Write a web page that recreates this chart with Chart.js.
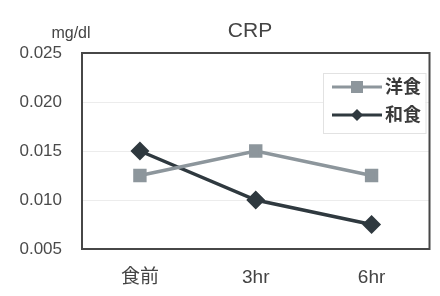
<!DOCTYPE html>
<html>
<head>
<meta charset="utf-8">
<script src="https://cdn.jsdelivr.net/npm/chart.js@4/dist/chart.umd.min.js"></script>
<style>
  html, body { margin: 0; padding: 0; background: #fff; }
  #wrap { width: 440px; height: 296px; }
</style>
</head>
<body>
<div id="wrap"><canvas id="crp" width="440" height="296"></canvas></div>
<script>
const categories = ['食前', '3hr', '6hr'];
const westernValues = [0.0125, 0.015, 0.0125];
const japaneseValues = [0.015, 0.010, 0.0075];
const yTicks = [0.005, 0.010, 0.015, 0.020, 0.025];

const FONT = '"Liberation Sans", "Noto Sans CJK JP", sans-serif';

// title, mg/dl label and boxed legend inside the plot
const extras = {
  id: 'extras',
  afterDraw(chart) {
    const { ctx, chartArea } = chart;
    ctx.save();
    ctx.textBaseline = 'middle';
    ctx.textAlign = 'center';
    ctx.fillStyle = '#444';
    ctx.font = '21px ' + FONT;
    ctx.fillText('CRP', 250, 31);
    ctx.font = '16px ' + FONT;
    ctx.fillText('mg/dl', 71, 34);

    // legend box
    const bx = 323, by = 73, bw = chartArea.right - 323 - 4, bh = 60;
    ctx.fillStyle = '#fff';
    ctx.fillRect(bx, by, bw, bh);
    ctx.strokeStyle = '#e2e2e2';
    ctx.lineWidth = 1;
    ctx.strokeRect(bx + 0.5, by + 0.5, bw, bh);
    chart.data.datasets.forEach((ds, i) => {
      const y = by + 14 + i * 28;
      ctx.strokeStyle = ds.borderColor;
      ctx.lineWidth = 3;
      ctx.beginPath();
      ctx.moveTo(bx + 9, y);
      ctx.lineTo(bx + 59, y);
      ctx.stroke();
      ctx.fillStyle = ds.borderColor;
      const cx = bx + 34;
      if (ds.pointStyle === 'rect') {
        ctx.fillRect(cx - 6, y - 6, 12, 12);
      } else {
        ctx.beginPath();
        ctx.moveTo(cx, y - 6);
        ctx.lineTo(cx + 6, y);
        ctx.lineTo(cx, y + 6);
        ctx.lineTo(cx - 6, y);
        ctx.closePath();
        ctx.fill();
      }
      ctx.fillStyle = '#3a3a3a';
      ctx.font = 'bold 18px ' + FONT;
      ctx.textAlign = 'left';
      ctx.fillText(ds.label, bx + 62, y + 1);
    });
    ctx.restore();
  }
};

const frame = {
  id: 'frame',
  afterDatasetsDraw(chart) {
    const { ctx, chartArea: a } = chart;
    ctx.save();
    ctx.strokeStyle = '#474747';
    ctx.lineWidth = 2;
    ctx.strokeRect(a.left, a.top, a.right - a.left, a.bottom - a.top);
    ctx.restore();
  }
};

new Chart('crp', {
  type: 'line',
  data: {
    labels: categories,
    datasets: [
      {
        label: '洋食',
        data: westernValues,
        borderColor: '#8d969c',
        backgroundColor: '#8d969c',
        borderWidth: 3.5,
        pointStyle: 'rect',
        pointRadius: 7,
        tension: 0,
      },
      {
        label: '和食',
        data: japaneseValues,
        borderColor: '#2f393f',
        backgroundColor: '#2f393f',
        borderWidth: 3.5,
        pointStyle: 'rectRot',
        pointRadius: 7,
        tension: 0,
      },
    ],
  },
  options: {
    responsive: false,
    animation: false,
    layout: { padding: { left: 0, right: 8, top: 53, bottom: 0 } },
    plugins: {
      legend: { display: false },
      tooltip: { enabled: false },
      title: { display: false },
    },
    scales: {
      x: {
        offset: true,
        afterFit(scale) { scale.height = 47; },
        grid: { display: false, drawTicks: false },
        border: { color: '#474747', width: 2 },
        ticks: {
          color: '#444',
          padding: 17,
          font: { family: FONT, size: 19 },
        },
      },
      y: {
        min: 0.005,
        max: 0.025,
        afterFit(scale) { scale.width = 82; },
        afterBuildTicks(scale) {
          scale.ticks = yTicks.map(v => ({ value: v }));
        },
        grid: { color: '#ececec', drawTicks: false },
        border: { color: '#474747', width: 2 },
        ticks: {
          color: '#4a4a4a',
          padding: 20,
          font: { family: FONT, size: 17 },
          callback: v => v.toFixed(3),
        },
      },
    },
  },
  plugins: [extras, frame],
});
</script>
</body>
</html>
